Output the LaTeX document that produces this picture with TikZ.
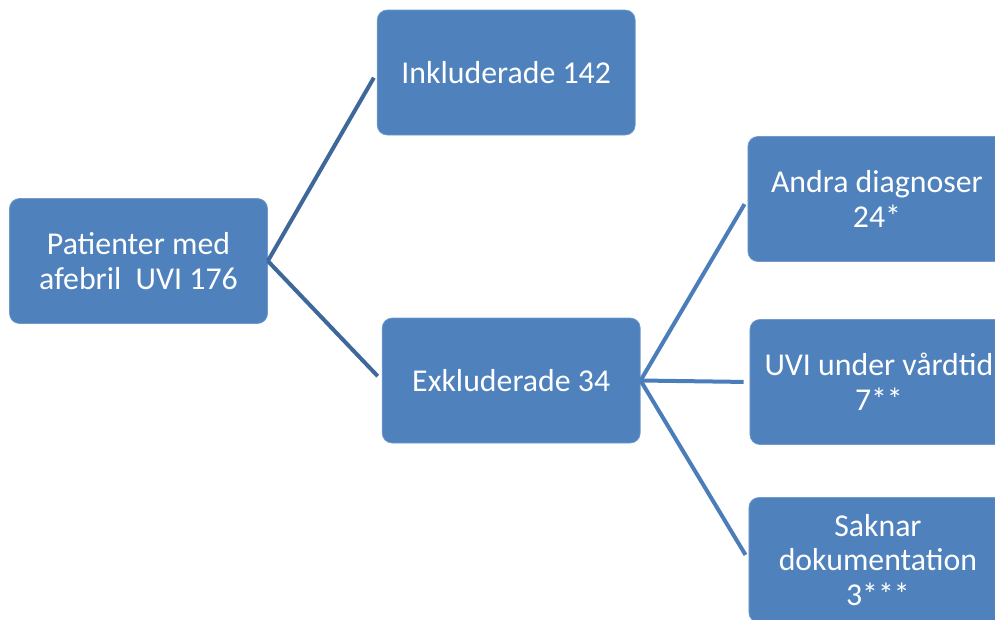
\documentclass[tikz,border=0pt]{standalone}
\usepackage{fontspec}
\setmainfont{Carlito}
\usetikzlibrary{positioning}

\definecolor{boxblue}{HTML}{4F81BD}
\definecolor{linkdark}{HTML}{3D6899}
\definecolor{linkblue}{HTML}{4A7DBA}

\tikzset{
  box/.style={rectangle, rounded corners=0.2cm, fill=boxblue, draw=boxblue!80!white,
    line width=0.4pt, text=white, align=center, minimum width=5.16cm,
    minimum height=2.5cm, inner sep=0pt, font=\fontsize{18.1}{19.8}\selectfont},
  link/.style={line width=0.08cm, shorten >=0.12cm},
}

\begin{document}
\begin{tikzpicture}[]
\useasboundingbox (0,0) rectangle (19.9,-12.38);
\clip (0,0) rectangle (19.9,-12.38);

\node[box] (pat) at (2.77,-5.22) {Patienter med\\afebril\ \ UVI 176} ;
\node[box] (inkl) [right=2.18cm of pat, yshift=3.77cm] {Inkluderade 142} ;
\node[box] (exkl) [right=2.28cm of pat, yshift=-2.39cm] {Exkluderade 34} ;

\node[box] (andra) [right=2.14cm of exkl, yshift=3.63cm] {Andra diagnoser\\24*} ;
\node[box] (uvi)   [right=2.18cm of exkl, yshift=-0.03cm] {UVI under vårdtid\\7**} ;
\node[box] (sakn)  [right=2.16cm of exkl, yshift=-3.59cm] {Saknar\\dokumentation\\3***} ;

\draw[link, linkdark] (pat.east) -- (inkl.west);
\draw[link, linkdark] (pat.east) -- (exkl.west);
\draw[link, linkblue] (exkl.east) -- (andra.west);
\draw[link, linkblue] (exkl.east) -- (uvi.west);
\draw[link, linkblue] (exkl.east) -- (sakn.west);
\end{tikzpicture}
\end{document}
